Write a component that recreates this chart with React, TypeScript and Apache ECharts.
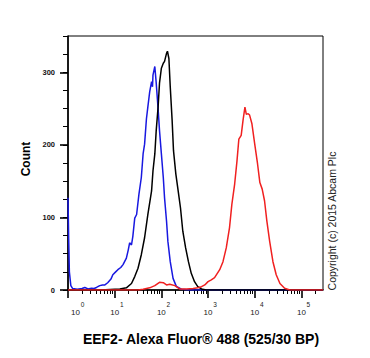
import React, { useEffect, useRef } from "react";
import * as echarts from "echarts";

const FONT = '"Liberation Sans", Arial, Helvetica, sans-serif';

// Axis ticks
const xMin = 1;
const xMax = 290000;
const xMajorTicks = [1, 10, 100, 1000, 10000, 100000];
const xMinorTicks = [
  2, 3, 4, 5, 6, 7, 8, 9,
  20, 30, 40, 50, 60, 70, 80, 90,
  200, 300, 400, 500, 600, 700, 800, 900,
  2000, 3000, 4000, 5000, 6000, 7000, 8000, 9000,
  20000, 30000, 40000, 50000, 60000, 70000, 80000, 90000,
  200000,
];
const yMajorTicks = [0, 100, 200, 300];
const yMax = 350;

// Blue histogram (intensity, count)
const blueX = [
  1, 1.035, 1.07, 1.15, 1.26, 1.58, 2.0, 2.29, 2.69, 3.16, 3.63, 4.07, 4.79, 5.5, 6.17,
  7.08, 8.32, 9.12, 10.5, 11.7, 13.5, 15.1, 17.8, 19.5, 20.9, 22.9, 24.5, 26.9, 29.5,
  33.1, 37.2, 40.7, 43.7, 47.9, 51.3, 56.2, 61.7, 64.6, 66.1, 72.4, 77.6, 85.1, 91.2,
  100, 110, 117, 129, 138, 155, 178, 209, 269, 398, 1000, 290000,
];
const blueCount = [
  127, 70, 25, 6, 2, 1, 2, 3.5, 1.5, 2.5, 2, 3.5, 6, 7, 7,
  10, 15, 21, 25, 28, 31, 35, 44, 55, 65, 62, 74, 99, 104,
  132, 155, 188, 201, 236, 252, 273, 287, 280, 296, 308, 285, 250, 220,
  188, 155, 127, 95, 67, 39, 16, 5, 1, 0, 0, 0,
];

// Black histogram
const blackX = [
  1, 5.0, 12.9, 17.8, 22.9, 26.9, 31.6, 37.2, 43.7, 51.3, 61.7, 66.1, 72.4, 77.6, 85.1,
  91.2, 100, 110, 117, 129, 135, 145, 155, 170, 182, 204, 229, 257, 288, 331, 380, 437,
  513, 603, 724, 912, 1259, 290000,
];
const blackCount = [
  0, 0, 1.5, 3, 9, 18.5, 30, 48.6, 72, 104, 136.5, 164, 187.5, 220, 252,
  285, 305.6, 312.5, 315, 326, 329, 319, 280, 234, 192, 160, 136.5, 113, 81, 58, 39, 23,
  11.5, 4.6, 1.4, 0, 0, 0,
];

// Red histogram
const redX = [
  1, 31.6, 40.7, 56.2, 72.4, 91.2, 110, 129, 151, 195, 245, 347, 479, 603, 724, 851,
  1000, 1175, 1380, 1778, 2089, 2455, 2884, 3236, 3715, 4169, 4571, 5129, 5623, 6166,
  6607, 7244, 7762, 8710, 10000, 11482, 12882, 14454, 16218, 18197, 20893, 24547,
  28840, 34674, 43652, 56234, 290000,
];
const redCount = [
  0, 0, 1, 3, 6, 10.6, 10, 7, 8, 6, 1.5, 1.5, 2, 3, 4.6, 7,
  11.5, 14, 17, 28, 39, 58, 86, 118, 146, 178, 208, 213, 234, 252,
  242, 243, 241, 229, 201, 174, 148, 139, 123, 95, 67, 39,
  21, 9, 2.3, 0, 0,
];

const pairs = (xs: number[], ys: number[]) => xs.map((x, i) => [x, ys[i]]);

export default function App() {
  const ref = useRef<HTMLDivElement>(null);

  useEffect(() => {
    if (!ref.current) return;
    const chart = echarts.init(ref.current, null, { renderer: "svg" });
    const lineSeries = (name: string, data: number[][], color: string) => ({
      name,
      type: "line",
      data,
      xAxisIndex: 0,
      yAxisIndex: 0,
      showSymbol: false,
      symbol: "none",
      smooth: false,
      lineStyle: { color, width: 1.5 },
      itemStyle: { color },
      z: 3,
    });
    chart.setOption({
      animation: false,
      backgroundColor: "#ffffff",
      grid: {
        left: 68,
        right: 47,
        top: 36,
        bottom: 68,
        show: true,
        borderColor: "#000",
        borderWidth: 1,
        backgroundColor: "transparent",
      },
      xAxis: [
        {
          type: "log",
          logBase: 10,
          min: xMin,
          max: xMax,
          position: "bottom",
          axisLine: { show: true, onZero: false, lineStyle: { color: "#000", width: 1.6 } },
          axisTick: {
            show: true,
            length: 8,
            customValues: xMajorTicks,
            lineStyle: { color: "#000", width: 1.6 },
          },
          axisLabel: { show: false },
          splitLine: { show: false },
        },
        {
          type: "log",
          logBase: 10,
          min: xMin,
          max: xMax,
          position: "bottom",
          axisLine: { show: false, onZero: false },
          axisTick: {
            show: true,
            length: 4,
            customValues: xMinorTicks,
            lineStyle: { color: "#000", width: 1 },
          },
          axisLabel: { show: false },
          splitLine: { show: false },
        },
      ],
      yAxis: [
        {
          type: "value",
          min: 0,
          max: yMax,
          interval: 100,
          position: "left",
          axisLine: { show: true, onZero: false, lineStyle: { color: "#000", width: 1.6 } },
          axisTick: {
            show: true,
            length: 8,
            customValues: yMajorTicks,
            lineStyle: { color: "#000", width: 1.6 },
          },
          axisLabel: {
            show: true,
            customValues: yMajorTicks,
            margin: 13,
            fontSize: 7.5,
            fontWeight: "bold",
            fontFamily: FONT,
            color: "#111",
          },
          splitLine: { show: false },
        },
        {
          type: "value",
          min: 0,
          max: yMax,
          interval: 25,
          position: "left",
          axisLine: { show: false, onZero: false },
          axisTick: { show: true, length: 5, lineStyle: { color: "#000", width: 1 } },
          axisLabel: { show: false },
          splitLine: { show: false },
        },
      ],
      series: [
        lineSeries("blue", pairs(blueX, blueCount), "#1818e0"),
        lineSeries("black", pairs(blackX, blackCount), "#000000"),
        lineSeries("red", pairs(redX, redCount), "#f02020"),
        {
          // x tick labels "10^n", placed through the log axis
          type: "custom",
          xAxisIndex: 0,
          yAxisIndex: 0,
          clip: false,
          silent: true,
          data: xMajorTicks.map((v) => [v, 0]),
          renderItem: (params: any, api: any) => {
            const v = api.value(0);
            const p = api.coord([v, 0]);
            const first = params.dataIndex === 0;
            const baseX = first ? p[0] + 7.5 : p[0];
            const exp = String(Math.round(Math.log10(v)));
            return {
              type: "group",
              children: [
                {
                  type: "text",
                  x: baseX,
                  y: p[1] + 22.2,
                  style: {
                    text: "10",
                    font: `8px ${FONT}`,
                    fill: "#222",
                    align: "center",
                    verticalAlign: "middle",
                  },
                },
                {
                  type: "text",
                  x: baseX + 5.2,
                  y: p[1] + 14.5,
                  style: {
                    text: exp,
                    font: `6.5px ${FONT}`,
                    fill: "#222",
                    align: "left",
                    verticalAlign: "middle",
                  },
                },
              ],
            };
          },
        },
      ],
      graphic: [
        {
          type: "text",
          x: 25.5,
          y: 159,
          rotation: Math.PI / 2,
          style: {
            text: "Count",
            font: `bold 12px ${FONT}`,
            fill: "#000",
            align: "center",
            verticalAlign: "middle",
          },
        },
        {
          type: "text",
          x: 201,
          y: 339,
          style: {
            text: "EEF2- Alexa Fluor® 488 (525/30 BP)",
            font: `bold 14px ${FONT}`,
            fill: "#000",
            align: "center",
            verticalAlign: "middle",
          },
        },
        {
          type: "text",
          x: 332,
          y: 221,
          rotation: Math.PI / 2,
          style: {
            text: "Copyright (c) 2015 Abcam Plc",
            font: `10.5px ${FONT}`,
            fill: "#222",
            align: "center",
            verticalAlign: "middle",
          },
        },
      ],
    });
    return () => chart.dispose();
  }, []);

  return <div ref={ref} style={{ width: 370, height: 358, margin: -8 }} />;
}
